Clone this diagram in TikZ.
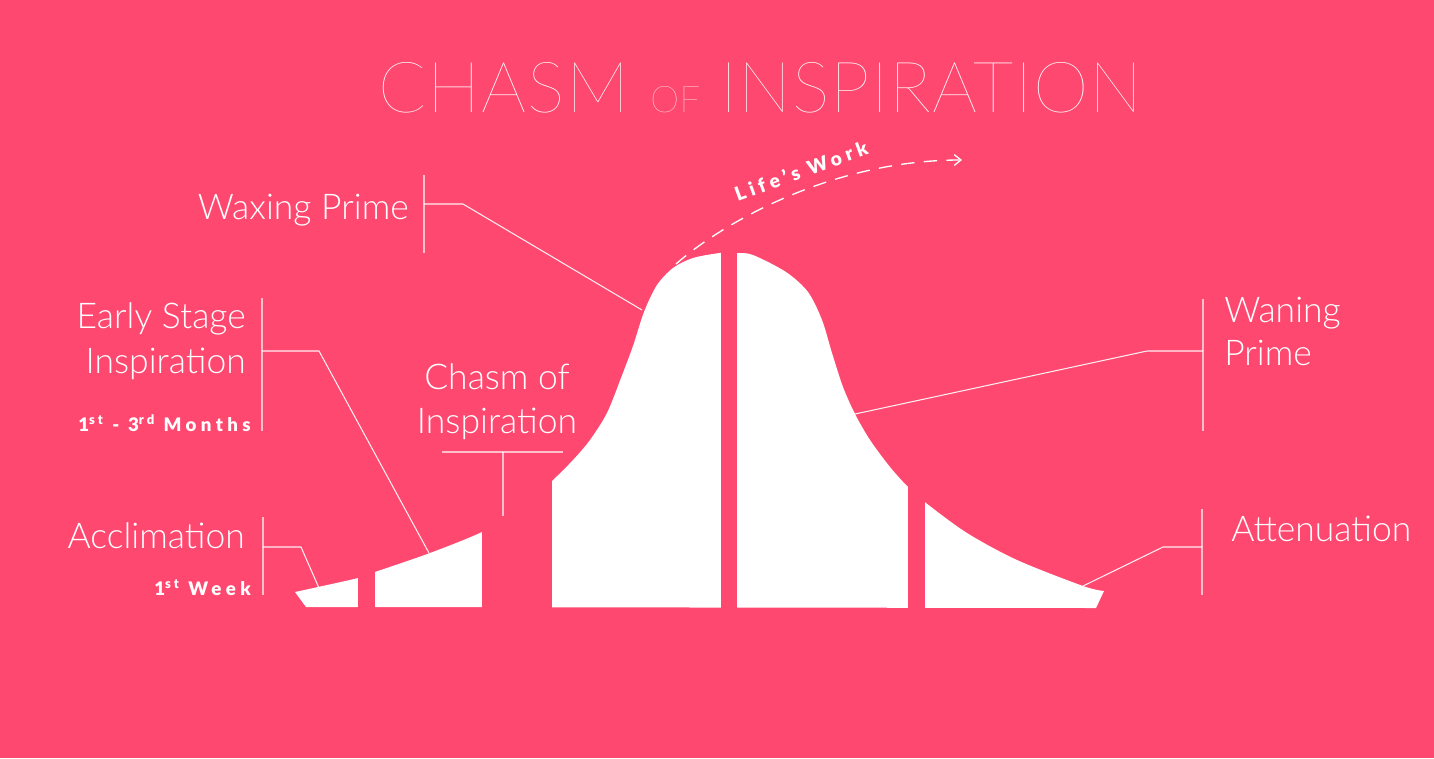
\documentclass[tikz,border=0pt]{standalone}
\usepackage{fontspec}
\usetikzlibrary{arrows.meta}
\setmainfont{Lato}
\IfFontExistsTF{Lato Light}{\newfontfamily\lightf{Lato Light}}{\newfontfamily\lightf{Lato}}
\IfFontExistsTF{Lato Thin}{\newfontfamily\thinf{Lato Thin}}{\IfFontExistsTF{Lato Hairline}{\newfontfamily\thinf{Lato Hairline}}{\newfontfamily\thinf{Lato}}}
\IfFontExistsTF{Lato Black}{\newfontfamily\heavyf{Lato Black}}{\newfontfamily\heavyf{Lato}[UprightFont=*-Bold]}
\definecolor{bg}{HTML}{FF4870}
\begin{document}
\begin{tikzpicture}[x=0.75pt,y=-0.75pt,
  lbl/.style={font=\lightf\fontsize{26.6}{26.6}\selectfont, text=white, inner sep=0pt},
  sub/.style={font=\heavyf\fontsize{14}{14}\selectfont\addfontfeature{LetterSpace=23.5}, text=white, inner sep=0pt},
  ttl/.style={font=\thinf\fontsize{53}{53}\selectfont\addfontfeature{LetterSpace=1.5}, text=white, inner sep=0pt},
  ttlsmall/.style={font=\thinf\fontsize{27.5}{27.5}\selectfont\addfontfeature{LetterSpace=1.5}, text=white, inner sep=0pt},
  bar/.style={draw=white, draw opacity=0.65, line width=1pt},
  lead/.style={draw=white, draw opacity=0.9, line width=0.8pt},
]
\fill[bg] (0,0) rectangle (1434,758);
\useasboundingbox (0,0) rectangle (1434,758);

% bell curve
\fill[white] plot[smooth, tension=0.5] coordinates {(295,592) (318,587) (358,578) (375,572) (430,553) (482,532) (520,510) (552,481) (573,460) (590,440) (607,413) (621,378) (633,346) (644,312) (657,285) (673,268) (693,258) (720,253) (737,253) (753,255) (786,272) (808,292) (822,320) (832,353) (843,387) (855,414) (870,440) (890,467) (908,487) (926,503) (967,533) (1017,560) (1083,586) (1104,591)} -- (1096,608) -- (306,607) -- cycle;
% gaps
\fill[bg] (358,500) rectangle (375,612);
\fill[bg] (482,420) rectangle (552,612);
\fill[bg] (721,240) rectangle (737,612);
\fill[bg] (908,420) rectangle (925,612);

% title
\node[ttl, anchor=base west] (t1) at (378,112) {CHASM};
\node[ttlsmall, anchor=base west] (t2) at (650,112) {OF};
\node[ttl, anchor=base west] (t3) at (720,112) {INSPIRATION};

% labels
\node[lbl, anchor=base east] (waxing) at (409,219) {Waxing Prime};
\node[lbl, anchor=base east] (early1) at (246,328) {Early Stage};
\node[lbl, anchor=base east] (early2) at (246,373) {Inspiration};
\node[sub, anchor=base east] (months) at (251,431) {1\textsuperscript{st} - 3\textsuperscript{rd} Months};
\node[lbl, anchor=base east] (accl) at (245,548) {Acclimation};
\node[sub, anchor=base east] (week) at (251,595) {1\textsuperscript{st} Week};
\node[lbl, anchor=base] (chasm1) at (497,389) {Chasm of};
\node[lbl, anchor=base] (chasm2) at (497,433) {Inspiration};
\node[lbl, anchor=base west] (waning1) at (1224,322) {Waning};
\node[lbl, anchor=base west] (waning2) at (1224,365) {Prime};
\node[lbl, anchor=base west] (atten) at (1231,541) {Attenuation};

% leader coordinates
\coordinate (wxT) at (424,175); \coordinate (wxB) at (424,253);
\coordinate (wxH) at (424,204); \coordinate (wxK) at (463,204); \coordinate (wxE) at (642,310);
\coordinate (esT) at (262,298); \coordinate (esB) at (262,431);
\coordinate (esH) at (262,351); \coordinate (esK) at (319,351); \coordinate (esE) at (429,553);
\coordinate (acT) at (263,517); \coordinate (acB) at (263,595);
\coordinate (acH) at (263,547); \coordinate (acK) at (301,547); \coordinate (acE) at (319,588);
\coordinate (chL) at (442,452); \coordinate (chR) at (563,452);
\coordinate (chM) at (503,452); \coordinate (chE) at (503,516);
\coordinate (wnT) at (1203,299); \coordinate (wnB) at (1203,431);
\coordinate (wnH) at (1203,351); \coordinate (wnK) at (1147,351); \coordinate (wnE) at (855,414);
\coordinate (atT) at (1202,509); \coordinate (atB) at (1202,595);
\coordinate (atH) at (1202,547); \coordinate (atK) at (1163,547); \coordinate (atE) at (1083,586);

\draw[bar] (wxT) -- (wxB);
\draw[lead] (wxH) -- (wxK) -- (wxE);
\draw[bar] (esT) -- (esB);
\draw[lead] (esH) -- (esK) -- (esE);
\draw[bar] (acT) -- (acB);
\draw[lead] (acH) -- (acK) -- (acE);
\draw[bar] (chL) -- (chR);
\draw[bar] (chM) -- (chE);
\draw[bar] (wnT) -- (wnB);
\draw[lead] (wnH) -- (wnK) -- (wnE);
\draw[bar] (atT) -- (atB);
\draw[lead] (atH) -- (atK) -- (atE);

% life's work
\coordinate (arcS) at (676,264);
\coordinate (arcE) at (962,160);
\draw[white, line width=1pt, dash pattern=on 10pt off 7pt, -{Straight Barb[length=5pt,width=8pt]}] (arcS) .. controls (720,225) and (830,160) .. (arcE);
\node[sub, font=\heavyf\fontsize{14.5}{14.5}\selectfont\addfontfeature{LetterSpace=24}, rotate=20] (life) at (801,171) {Life’s Work};
\end{tikzpicture}
\end{document}
